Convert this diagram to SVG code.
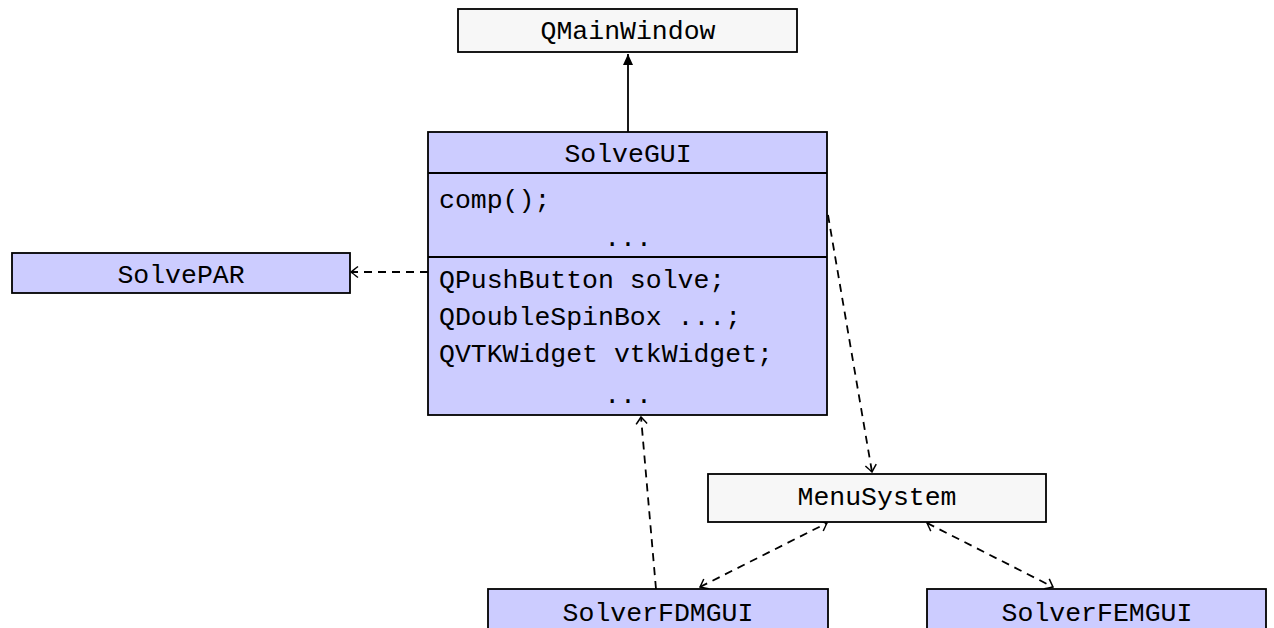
<svg xmlns="http://www.w3.org/2000/svg" width="1274" height="628" viewBox="0 0 1274 628">
<style>
.box{stroke:#000;stroke-width:1.8}
.blue{fill:#ccccff}
.gray{fill:#f7f7f7}
.t{font-family:"Liberation Mono","DejaVu Sans Mono",monospace;font-size:26.5px;fill:#000}
.c{text-anchor:middle}
.dash{fill:none;stroke:#000;stroke-width:1.8;stroke-dasharray:8,6}
.solid{fill:none;stroke:#000;stroke-width:1.8}
</style>
<defs>
<marker id="open" markerUnits="userSpaceOnUse" markerWidth="16" markerHeight="16" refX="0" refY="0" viewBox="-9 -8 11 16" orient="auto-start-reverse">
<path d="M -7 -5.5 Q -2 -1.5 0 0 Q -2 1.5 -7 5.5" fill="none" stroke="#000" stroke-width="1.5" stroke-dasharray="none"/>
</marker>
<marker id="filled" markerUnits="userSpaceOnUse" markerWidth="14" markerHeight="14" refX="0" refY="0" viewBox="-12 -7 14 14" orient="auto">
<path d="M 0 0 L -11 -5 L -11 5 Z" fill="#000" stroke="none"/>
</marker>
</defs>
<g id="connectors">
<path class="solid" d="M 628 132 L 628 54" marker-end="url(#filled)"/>
<path class="dash" d="M 428 272 L 351 272" marker-end="url(#open)"/>
<path class="dash" d="M 828 215 L 872 472" marker-end="url(#open)"/>
<path class="dash" d="M 656 589 L 641 417" marker-end="url(#open)"/>
<path class="dash" d="M 700 587 L 827 523" marker-start="url(#open)" marker-end="url(#open)"/>
<path class="dash" d="M 927 523 L 1053 587" marker-start="url(#open)" marker-end="url(#open)"/>
</g>
<g id="QMainWindow">
<rect class="box gray" x="458" y="9" width="339" height="43"/>
<text class="t c" x="628" y="39">QMainWindow</text>
</g>
<g id="SolveGUI">
<rect class="box blue" x="428" y="132" width="399" height="283"/>
<line class="box" x1="428" y1="173" x2="827" y2="173"/>
<line class="box" x1="428" y1="257" x2="827" y2="257"/>
<text class="t c" x="628" y="162">SolveGUI</text>
<text class="t" x="439" y="208">comp();</text>
<text class="t c" x="628" y="246">...</text>
<text class="t" x="439" y="288">QPushButton solve;</text>
<text class="t" x="439" y="325">QDoubleSpinBox ...;</text>
<text class="t" x="439" y="362">QVTKWidget vtkWidget;</text>
<text class="t c" x="628" y="403">...</text>
</g>
<g id="SolvePAR">
<rect class="box blue" x="12" y="253" width="338" height="40"/>
<text class="t c" x="181" y="283">SolvePAR</text>
</g>
<g id="MenuSystem">
<rect class="box gray" x="708" y="474" width="338" height="48"/>
<text class="t c" x="877" y="505">MenuSystem</text>
</g>
<g id="SolverFDMGUI">
<rect class="box blue" x="488" y="589" width="340" height="50"/>
<text class="t c" x="658" y="621">SolverFDMGUI</text>
</g>
<g id="SolverFEMGUI">
<rect class="box blue" x="927" y="589" width="339" height="50"/>
<text class="t c" x="1097" y="621">SolverFEMGUI</text>
</g>
</svg>
